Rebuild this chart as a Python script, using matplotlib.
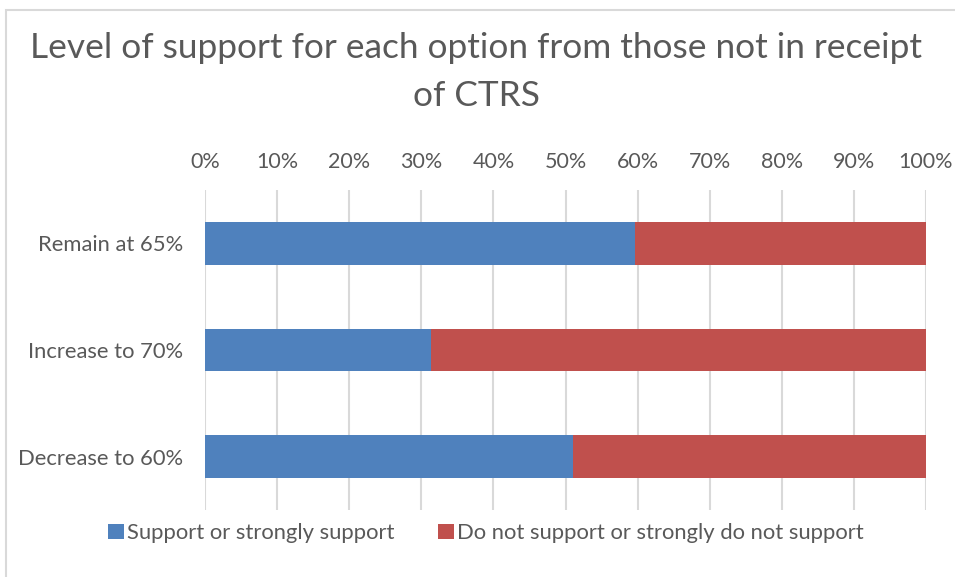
import matplotlib
matplotlib.use("Agg")
import matplotlib.pyplot as plt
import numpy as np
from matplotlib.patches import Rectangle
from matplotlib.ticker import PercentFormatter

CATEGORIES = ["Remain at 65%", "Increase to 70%", "Decrease to 60%"]
SUPPORT = [59.6, 31.3, 51.0]
NOT_SUPPORT = [40.4, 68.7, 49.0]
SERIES_NAMES = ["Support or strongly support", "Do not support or strongly do not support"]
X_TICKS = [0, 10, 20, 30, 40, 50, 60, 70, 80, 90, 100]

BLUE = "#4f81bd"
RED = "#c0504d"
TEXT = "#595959"
GRID = "#d9d9d9"

plt.rcParams["font.family"] = ["Lato", "DejaVu Sans"]

W, H = 955, 577
fig = plt.figure(figsize=(W / 100, H / 100), dpi=100)
fig.patch.set_facecolor("white")

# chart frame (cropped on right / bottom)
fig.add_artist(Rectangle((6 / W, -0.1), 1.2, 1 - 10 / H + 0.1, transform=fig.transFigure,
                         fill=False, edgecolor=GRID, linewidth=1.5))

ax = fig.add_axes([205 / W, 1 - 510 / H, (926 - 205) / W, 320 / H])
y = np.arange(len(CATEGORIES))
ax.barh(y, SUPPORT, height=0.4, color=BLUE, label=SERIES_NAMES[0], zorder=3)
ax.barh(y, NOT_SUPPORT, left=SUPPORT, height=0.4, color=RED, label=SERIES_NAMES[1], zorder=3)

ax.set_xlim(0, 100)
ax.set_ylim(len(CATEGORIES) - 0.5, -0.5)
ax.set_yticks(y)
ax.set_yticklabels(CATEGORIES)
ax.set_xticks(X_TICKS)
ax.xaxis.set_major_formatter(PercentFormatter(decimals=0))
ax.xaxis.tick_top()
ax.tick_params(axis="x", length=0, labelsize=15.5, colors=TEXT, pad=13)
ax.tick_params(axis="y", length=0, labelsize=15.8, colors=TEXT, pad=16)
ax.grid(axis="x", color=GRID, linewidth=1.5, zorder=0)
for s in ax.spines.values():
    s.set_visible(False)

fig.text(476 / W, 1 - 48 / H, "Level of support for each option from those not in receipt",
         ha="center", va="center", fontsize=25.4, color=TEXT)
fig.text(476 / W, 1 - 96 / H, "of CTRS", ha="center", va="center", fontsize=25.4, color=TEXT)

fig.legend(loc="center", bbox_to_anchor=(486 / W, 1 - 533 / H), ncol=2, frameon=False,
           fontsize=15.8, labelcolor=TEXT, handlelength=0.7, handleheight=0.7,
           handletextpad=0.15, columnspacing=2.0)

fig.savefig("out.png", dpi=100)
